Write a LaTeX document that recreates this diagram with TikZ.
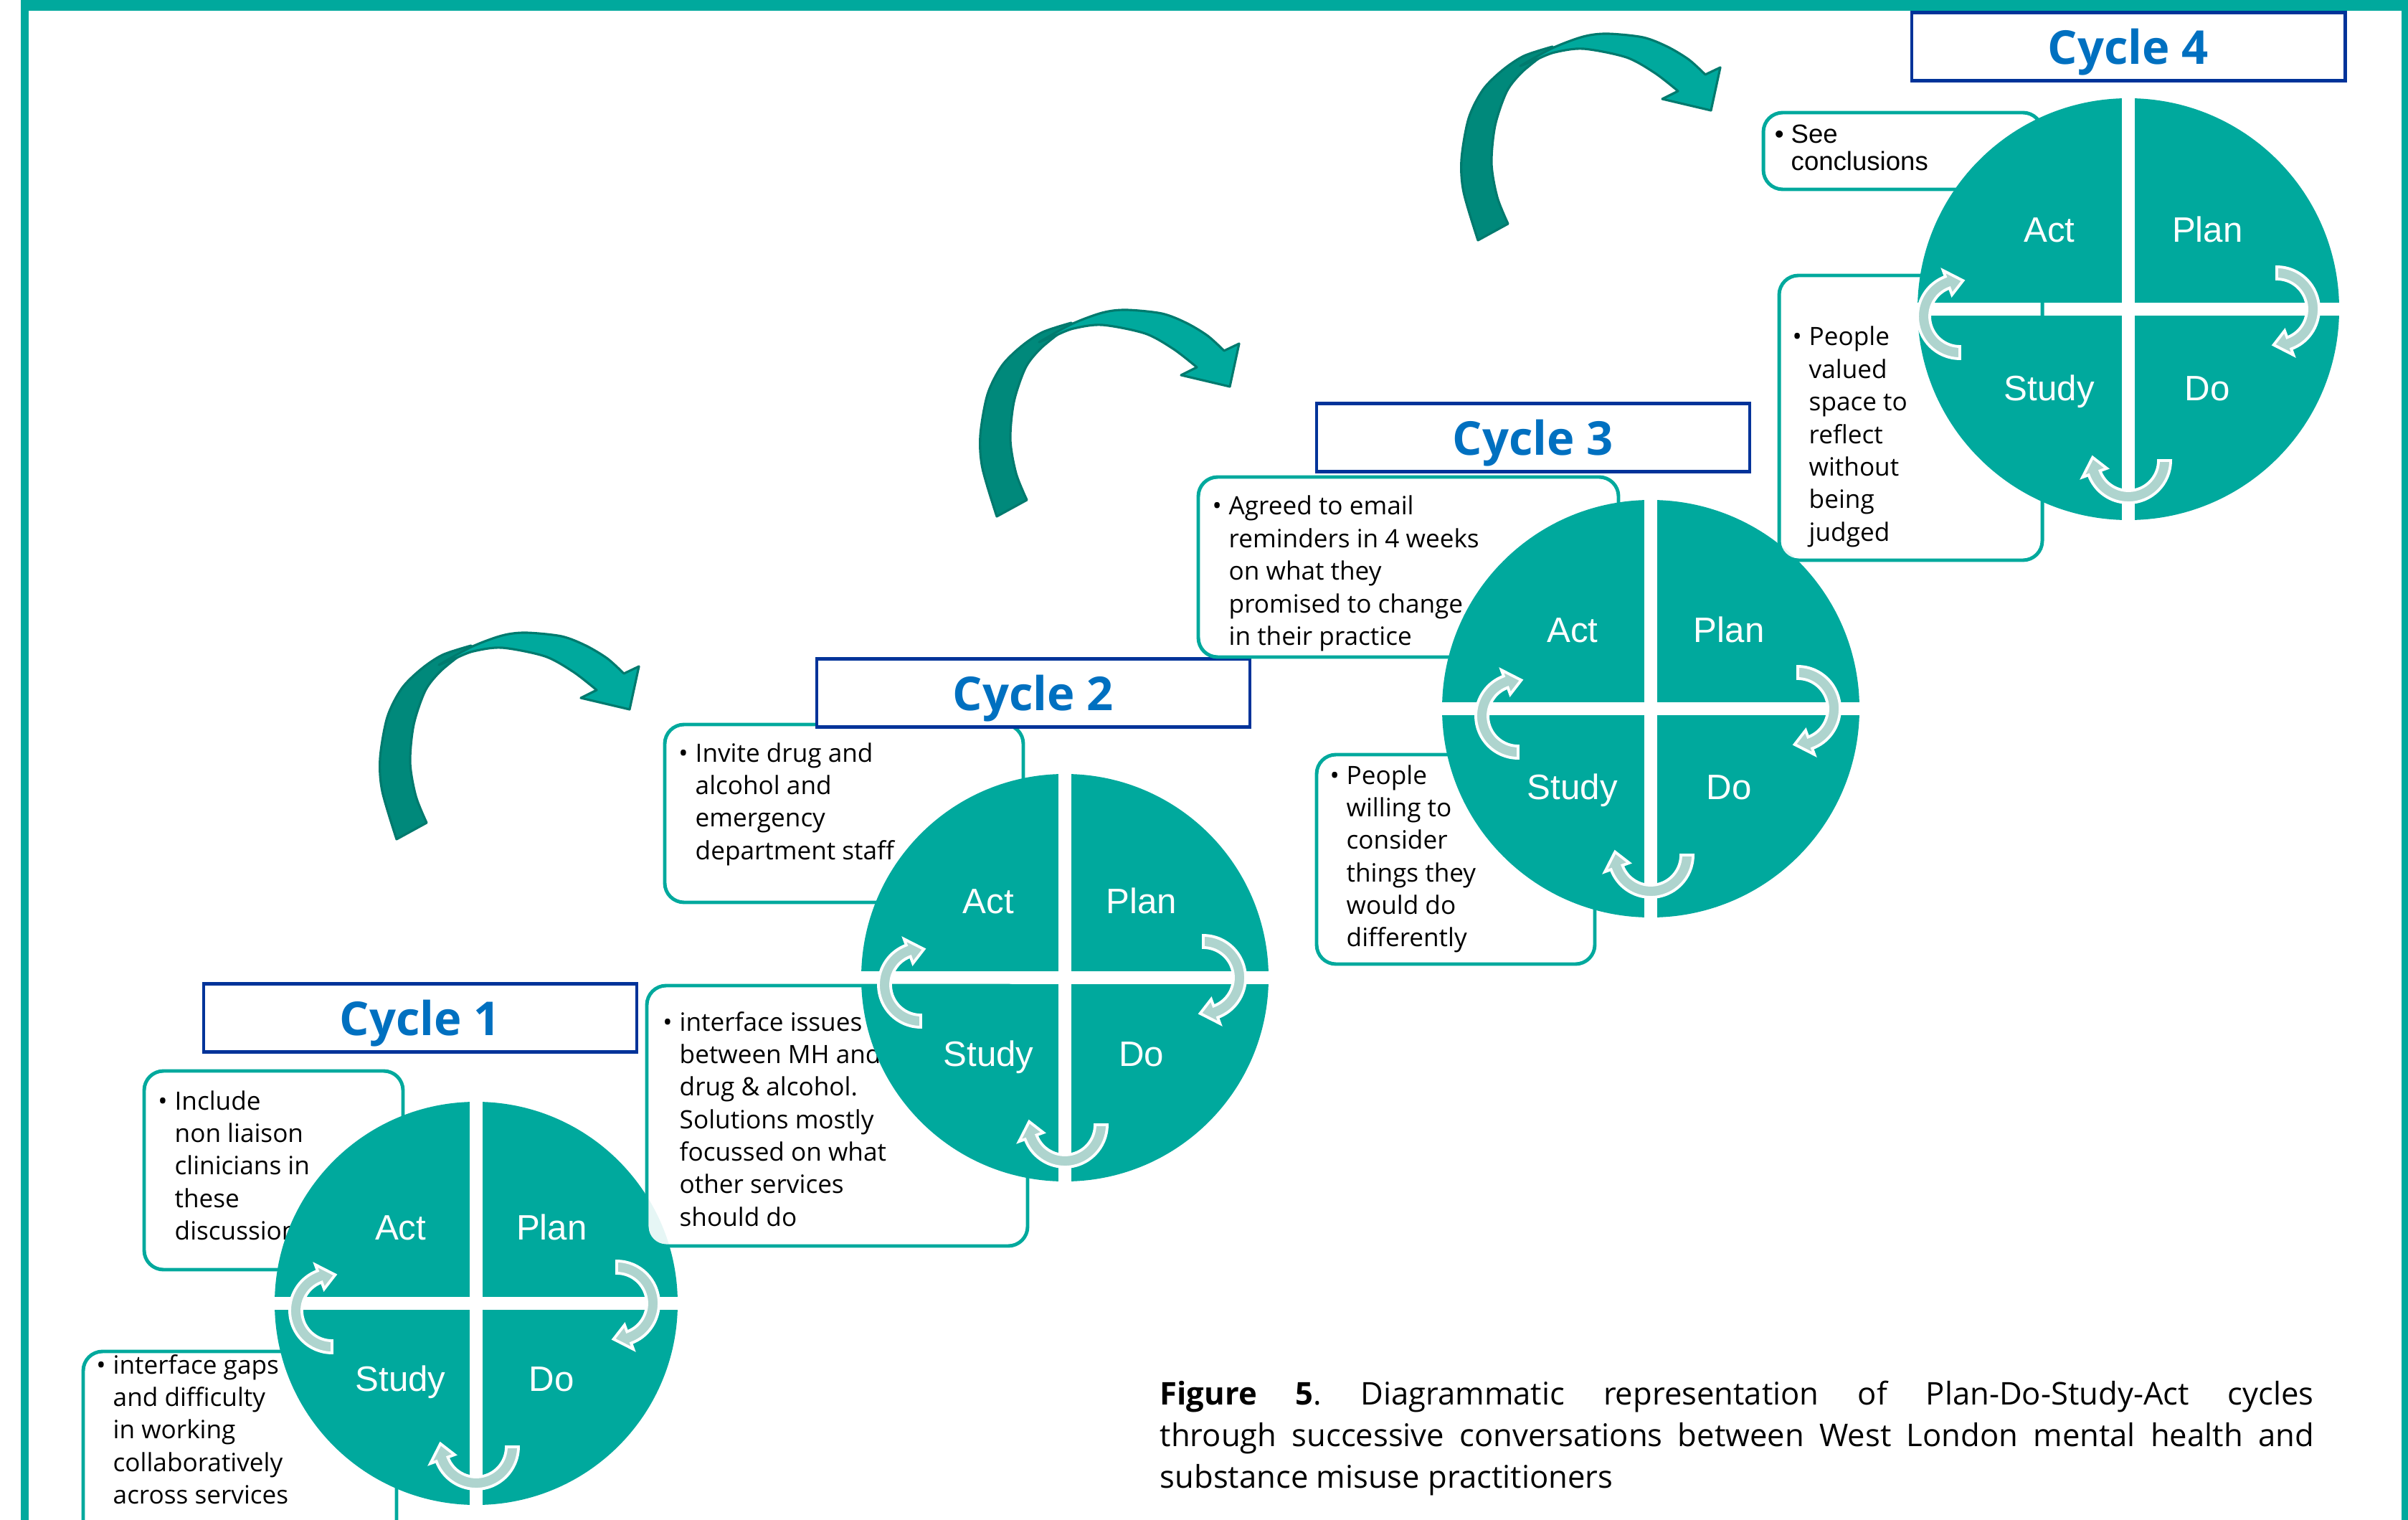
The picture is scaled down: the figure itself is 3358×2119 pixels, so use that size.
\documentclass[tikz,border=0pt]{standalone}
\usepackage{fontspec}
\setmainfont{Open Sans}
\newfontfamily\arialfont{Liberation Sans}
\usetikzlibrary{calc}
\frenchspacing

\definecolor{pdsateal}{RGB}{0,169,157}
\definecolor{pdsadark}{RGB}{0,137,123}
\definecolor{pdsaline}{RGB}{0,122,110}
\definecolor{pdsapale}{RGB}{174,212,206}
\definecolor{cycleblue}{RGB}{0,112,192}
\definecolor{cycleframe}{RGB}{0,51,153}

% bullet point with its lines
\newcommand{\bultext}[1]{\llap{\textbullet\hspace{0.1cm}}\begin{tabular}[t]{@{}l@{}}#1\end{tabular}}

% small turning arrow inside a wheel
\newcommand{\pdsaturn}[2]{%
  \filldraw[turnarrow] ($(#1)+(#2:59)$) arc[start angle=#2, delta angle=-160, radius=59]
    -- ($(#1)+(#2-160:68)$) -- ($(#1)+(#2-185:50)$) -- ($(#1)+(#2-160:32)$)
    -- ($(#1)+(#2-160:42)$) arc[start angle=#2-160, delta angle=160, radius=42] -- cycle;}

% one plan-do-study-act wheel: name, x, y, radius, left/right/bottom arrow offsets
\newcommand{\pdsawheel}[7]{%
  \coordinate (#1) at (#2,-#3);
  \begin{scope}
    \clip (#1) circle[radius=#4];
    \fill[quadfill] ($(#1)+(9,9)$) rectangle ++(400,400);
    \fill[quadfill] ($(#1)+(-9,9)$) rectangle ++(-400,400);
    \fill[quadfill] ($(#1)+(-9,-9)$) rectangle ++(-400,-400);
    \fill[quadfill] ($(#1)+(9,-9)$) rectangle ++(400,-400);
  \end{scope}
  \node[phaselabel] (#1act) at ($(#1)+({-0.375*#4},{0.375*#4-17})$) {Act};
  \node[phaselabel] (#1plan) at ($(#1)+({0.375*#4},{0.375*#4-17})$) {Plan};
  \node[phaselabel] (#1study) at ($(#1)+({-0.375*#4},{-0.375*#4-17})$) {Study};
  \node[phaselabel] (#1do) at ($(#1)+({0.375*#4},{-0.375*#4-17})$) {Do};
  \coordinate (#1right) at ($(#1)+(#6,0)$);
  \coordinate (#1bottom) at ($(#1)+(0,-#7)$);
  \coordinate (#1left) at ($(#1)+(-#5,-10)$);
  \pdsaturn{#1right}{90}
  \pdsaturn{#1bottom}{0}
  \pdsaturn{#1left}{-90}}

% big twisted arrow from one cycle to the next
\newcommand{\bigturn}[2]{%
  \begin{scope}[shift={(#1,#2)}]
    \filldraw[bigarrow, fill=pdsadark] plot[smooth] coordinates {(553,-1170) (533,-1103) (530,-1057) (540,-1000) (560,-960) (587,-933) (617,-913) (657,-900)}
      -- plot[smooth] coordinates {(637,-917) (613,-937) (593,-963) (577,-1010) (572,-1063) (580,-1110) (595,-1147)} -- cycle;
    \filldraw[bigarrow, fill=pdsateal] plot[smooth] coordinates {(612,-927) (657,-902) (700,-886) (733,-882) (783,-887) (817,-900) (847,-918) (870,-939)}
      -- (891,-929) -- (878,-989) -- (810,-973)
      -- plot[smooth] coordinates {(832,-962) (800,-937) (760,-915) (700,-903) (660,-908) (637,-917)} -- cycle;
  \end{scope}}

\begin{document}
\begin{tikzpicture}[x=0.01cm, y=0.01cm]
    % styles
    \tikzstyle{quadfill}=[fill=pdsateal]
    \tikzstyle{phaselabel}=[anchor=base, inner sep=0pt, text=white, font=\arialfont\fontsize{14}{16}\selectfont]
    \tikzstyle{turnarrow}=[fill=pdsapale, draw=white, line width=1.1pt]
    \tikzstyle{bigarrow}=[draw=pdsaline, line width=0.9pt, line join=round]
    \tikzstyle{notebox}=[draw=pdsateal, line width=1.4pt, fill=white, fill opacity=0.9, rounded corners=0.27cm]
    \tikzstyle{notetext}=[anchor=base west, inner sep=0pt, font=\fontsize{10}{12.9}\selectfont]
    \tikzstyle{cycletitle}=[draw=cycleframe, line width=1.3pt, fill=white, minimum width=6.04cm, minimum height=0.95cm, inner sep=0pt, text depth=0pt, text=cycleblue, font=\bfseries\fontsize{18.5}{22}\selectfont]
    \tikzstyle{figcaption}=[anchor=base west, inner sep=0pt, text width=16.08cm, align=justify, font=\fontsize{12.4}{16.5}\selectfont]

    \useasboundingbox (0,0) rectangle (3358,-2119);
    \clip (0,0) rectangle (3358,-2119);

    % frame
    \fill[pdsateal] (29,0) rectangle (40,-2119);
    \fill[pdsateal] (29,0) rectangle (3358,-15);
    \fill[pdsateal] (3349,0) rectangle (3358,-2119);

    % arrows between the cycles
    \bigturn{0}{0}
    \bigturn{837}{450}
    \bigturn{1508}{835}

    % cycle 1
    \draw[notebox] (201,-1493) rectangle (562,-1770);
    \node[notetext] (act1txt) at (243,-1547) {\bultext{Include\\non liaison\\clinicians in\\these\\discussions}};
    \draw[notebox] (116,-1884) rectangle (553,-2160);
    \node[notetext] (study1txt) at (157,-1915) {\bultext{interface gaps\\and difficulty\\in working\\collaboratively\\across services}};
    \pdsawheel{c1}{664}{1817}{281}{201}{196}{200}
    \node[cycletitle] (title1) at (586,-1419) {Cycle 1};

    % cycle 2
    \draw[notebox] (927,-1010) rectangle (1427,-1258);
    \node[notetext] (act2txt) at (969,-1062) {\bultext{Invite drug and\\alcohol and\\emergency\\department staff}};
    \draw[notebox] (902,-1374) rectangle (1433,-1737);
    \node[notetext] (study2txt) at (947,-1437) {\bultext{interface issues\\between MH and\\drug \& alcohol.\\Solutions mostly\\focussed on what\\other services\\should do}};
    \pdsawheel{c2}{1485}{1363}{284}{201}{193}{205}
    \node[cycletitle] (title2) at (1441,-966) {Cycle 2};

    % cycle 3
    \draw[notebox] (1671,-665) rectangle (2257,-916);
    \node[notetext] (act3txt) at (1713,-718) {\bultext{Agreed to email\\reminders in 4 weeks\\on what they\\promised to change\\in their practice}};
    \draw[notebox] (1836,-1052) rectangle (2224,-1344);
    \node[notetext] (study3txt) at (1877,-1093) {\bultext{People\\willing to\\consider\\things they\\would do\\differently}};
    \pdsawheel{c3}{2302}{988}{291}{185}{205}{204}
    \node[cycletitle] (title3) at (2138,-610) {Cycle 3};

    % cycle 4
    \draw[notebox] (2459,-157) rectangle (2848,-264);
    \node[notetext, font=\arialfont\fontsize{10.4}{10.8}\selectfont] (act4txt) at (2497,-200) {\bultext{See\\conclusions}};
    \draw[notebox] (2481,-384) rectangle (2848,-781);
    \node[notetext] (study4txt) at (2522,-482) {\bultext{People\\valued\\space to\\reflect\\without\\being\\judged}};
    \pdsawheel{c4}{2968}{431}{294}{235}{207}{211}
    \node[cycletitle] (title4) at (2968,-65) {Cycle 4};

    % caption
    \node[figcaption] (caption) at (1617,-1958) {\hyphenpenalty=10000\exhyphenpenalty=10000{\bfseries Figure 5}. Diagrammatic representation of Plan-Do-Study-Act cycles\linebreak through successive conversations between West London mental health and\linebreak substance misuse practitioners};
\end{tikzpicture}
\end{document}
